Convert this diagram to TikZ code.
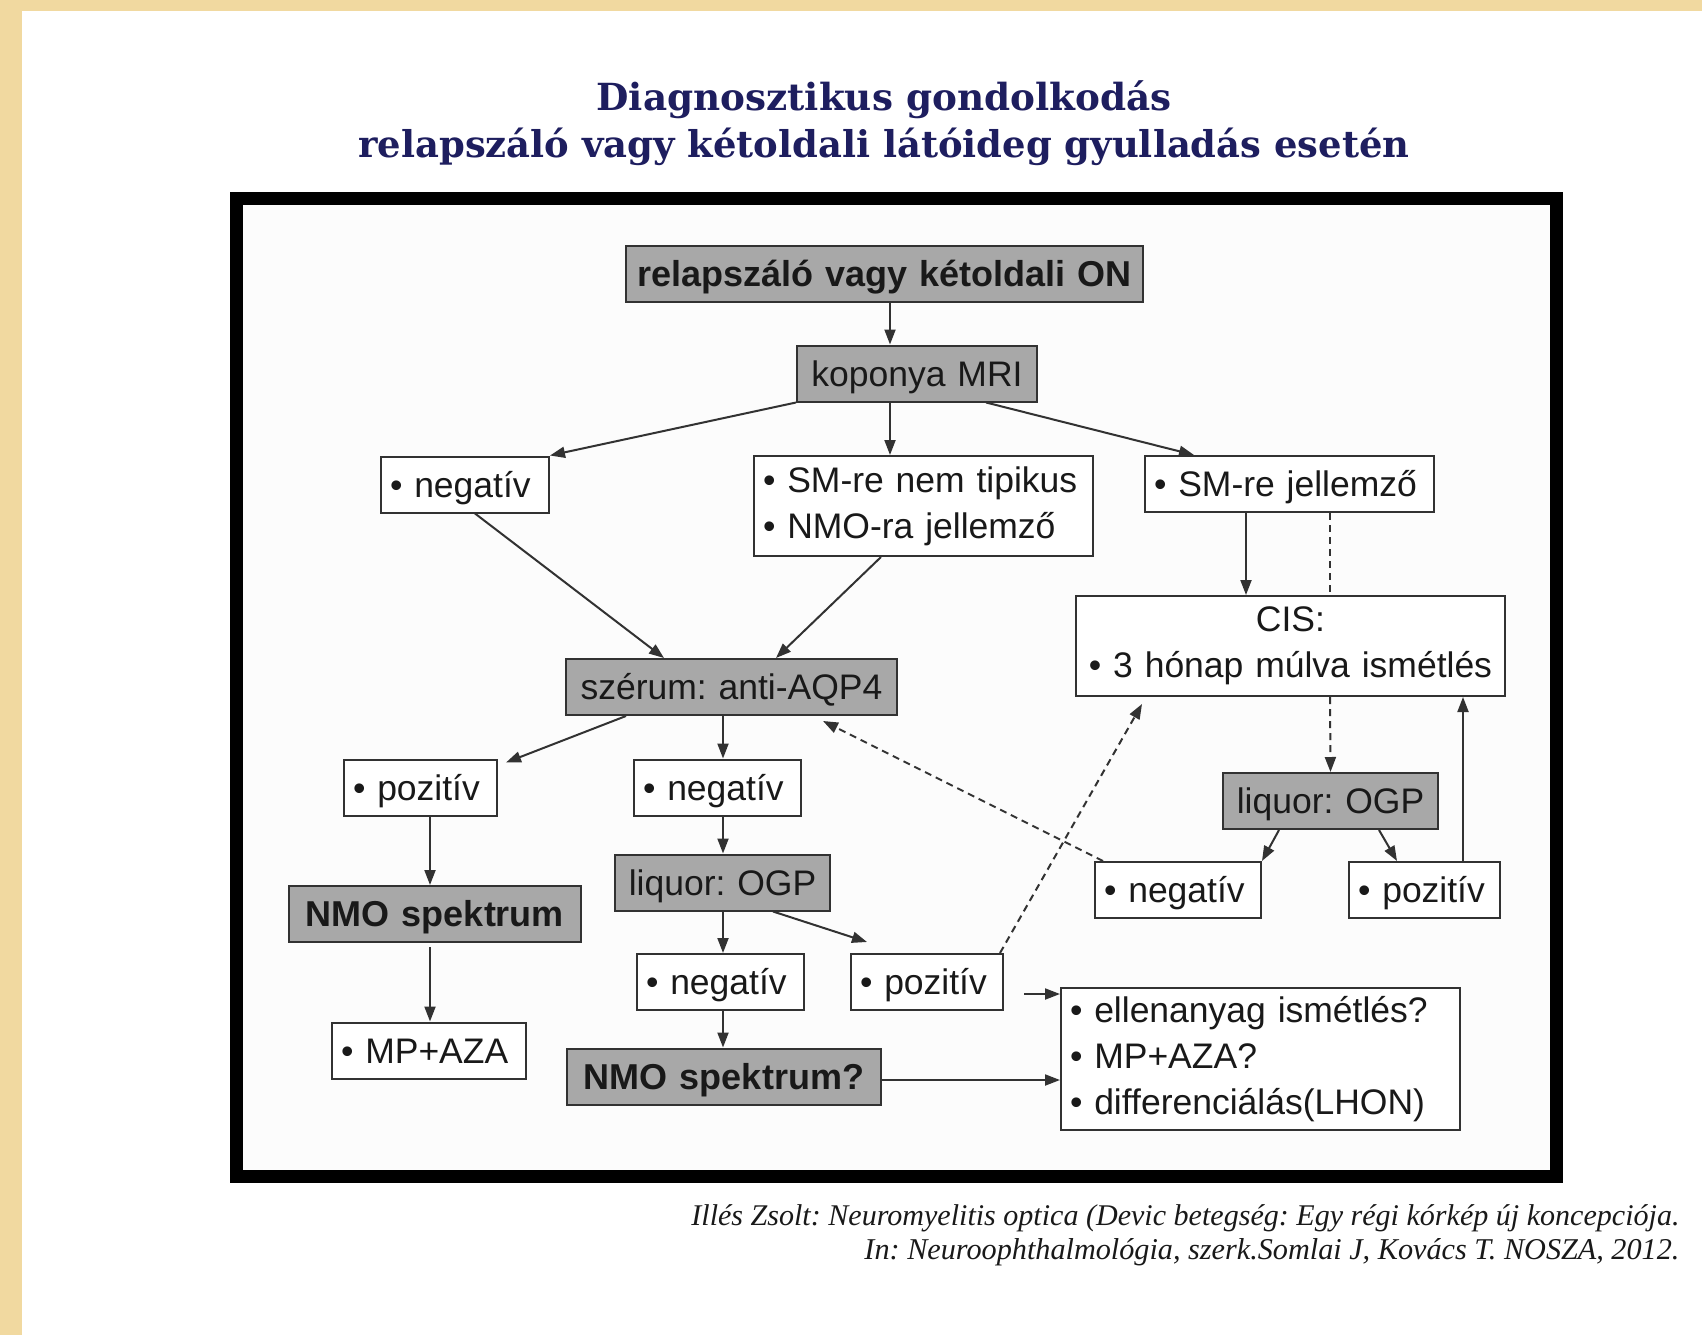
\documentclass[tikz,border=0pt]{standalone}
\usepackage{fontspec}
\usepackage{graphicx}
\setmainfont{Liberation Serif}
\newfontfamily\boxfont{Liberation Sans}
\newfontfamily\titlefont{DejaVu Serif}
\usetikzlibrary{arrows.meta}
\frenchspacing
\definecolor{navy}{RGB}{30,30,95}
\definecolor{wood}{RGB}{241,217,160}
\definecolor{bline}{RGB}{50,50,50}
\definecolor{gbox}{RGB}{168,168,168}
\definecolor{txt}{RGB}{25,25,25}
\definecolor{inner}{RGB}{252,252,252}
\tikzset{
  basebox/.style={draw=bline, line width=2pt, fill=white, inner xsep=9pt, inner ysep=0pt,
    minimum height=56pt, font=\boxfont\fontsize{35.5}{46}\selectfont, text=txt, align=left},
  bx/.style={basebox, text height=30pt, text depth=5pt},
  mbx/.style={basebox},
  gbx/.style={bx, fill=gbox, align=center},
  arr/.style={draw=bline, line width=2pt, -{Triangle[length=15pt,width=11pt]}},
  darr/.style={arr, dash pattern=on 7pt off 5pt},
  dln/.style={draw=bline, line width=2pt, dash pattern=on 7pt off 5pt},
}
\begin{document}
\begin{tikzpicture}[x=1pt,y=-1pt]
\useasboundingbox (0,0) rectangle (1702,1335);
% background
\fill[wood] (0,0) rectangle (1702,1335);
\fill[white] (22,11) rectangle (1702,1335);
% title
\node[font=\titlefont\bfseries\fontsize{34}{40}\selectfont, text=navy] (t1) at (884,100)
  {\resizebox{575pt}{!}{Diagnosztikus gondolkodás}};
\node[font=\titlefont\bfseries\fontsize{34}{40}\selectfont, text=navy] (t2) at (884,147)
  {\resizebox{1051pt}{!}{relapszáló vagy kétoldali látóideg gyulladás esetén}};
% frame
\fill[inner] (243,205) rectangle (1550,1170);
\draw[line width=13pt, black] (236.5,198.5) rectangle (1556.5,1176.5);
% nodes
\node[gbx, text width=499pt, font=\boxfont\bfseries\fontsize{36}{46}\selectfont] (on) at (884.5,273.5) {relapszáló vagy kétoldali ON};
\node[gbx, text width=222pt] (mri) at (917,373.5) {koponya MRI};
\node[bx, text width=150pt] (neg1) at (465,484.5) {• negatív};
\node[mbx, text width=321pt, minimum height=100pt] (smnem) at (923.5,506) {• SM-re nem tipikus\\• NMO-ra jellemző};
\node[bx, text width=271pt] (smj) at (1289.5,484) {• SM-re jellemző};
\node[mbx, text width=411pt, minimum height=100pt, align=center] (cis) at (1290.5,646) {CIS:\\• 3 hónap múlva ismétlés};
\node[gbx, text width=313pt] (szer) at (731.5,687) {szérum: anti-AQP4};
\node[bx, text width=135pt] (poz1) at (420.5,787.5) {• pozitív};
\node[bx, text width=149pt] (neg2) at (717.5,787.5) {• negatív};
\node[gbx, text width=197pt] (liq1) at (722.5,882.5) {liquor: OGP};
\node[gbx, text width=274pt, font=\boxfont\bfseries\fontsize{36}{46}\selectfont] (nmo) at (435,914) {NMO spektrum};
\node[bx, text width=149pt] (neg3) at (720.5,982) {• negatív};
\node[bx, text width=134pt] (poz2) at (927,982) {• pozitív};
\node[gbx, text width=296pt, font=\boxfont\bfseries\fontsize{36}{46}\selectfont] (nmoq) at (724,1076.5) {NMO spektrum?};
\node[bx, text width=176pt] (mpaza) at (429,1050.5) {• MP+AZA};
\node[mbx, text width=381pt, minimum height=142pt] (big) at (1260.5,1059) {• ellenanyag ismétlés?\\• MP+AZA?\\• differenciálás(LHON)};
\node[gbx, text width=197pt] (liq2) at (1330.5,801) {liquor: OGP};
\node[bx, text width=148pt] (neg4) at (1178,890) {• negatív};
\node[bx, text width=133pt] (poz3) at (1424.5,890) {• pozitív};
% connectors
\draw[arr] ([xshift=5.5]on.south) -- ([xshift=-27]mri.north);
\draw[arr] (mri.south west) -- (neg1.north east);
\draw[arr] ([xshift=-27]mri.south) -- ([xshift=-33.5]smnem.north);
\draw[arr] ([xshift=69]mri.south) -- ([xshift=-95.5]smj.north);
\draw[arr] ([xshift=10]neg1.south) -- ([xshift=-67.5]szer.north);
\draw[arr] ([xshift=-42.5]smnem.south) -- ([xshift=44.5]szer.north);
\draw[arr] ([xshift=-43.5]smj.south) -- ([xshift=-44.5]cis.north);
\draw[dln] ([xshift=40.5]smj.south) -- ([xshift=39.5]cis.north);
\draw[darr] ([xshift=39.5]cis.south) -- (liq2.north);
\draw[arr] ([xshift=-105.5]szer.south) -- ([xshift=8,yshift=-4]poz1.north east);
\draw[arr] ([xshift=-8.5]szer.south) -- ([xshift=5.5]neg2.north);
\draw[arr] ([xshift=9.5]poz1.south) -- ([xshift=-5]nmo.north);
\draw[arr] ([xshift=-5,yshift=-4]nmo.south) -- ([xshift=1]mpaza.north);
\draw[arr] ([xshift=5.5]neg2.south) -- ([xshift=0.5]liq1.north);
\draw[arr] ([xshift=0.5]liq1.south) -- ([xshift=2.5]neg3.north);
\draw[arr] ([xshift=50.5]liq1.south) -- ([xshift=17,yshift=11]poz2.north west);
\draw[arr] ([xshift=2.5]neg3.south) -- ([xshift=-1]nmoq.north);
\draw[arr] ([yshift=-3.5]nmoq.east) -- ([yshift=-21]big.west);
\coordinate (pz2out) at ([xshift=20,yshift=-12]poz2.east);
\draw[arr] (pz2out) -- ([yshift=65]big.west);
\draw[darr] ([xshift=-4]poz2.north east) -- ([xshift=67,yshift=-7]cis.south west);
\draw[darr] ([xshift=9]neg4.north west) -- ([xshift=-75,yshift=-5]szer.south east);
\draw[arr] ([xshift=-51.5]liq2.south) -- (neg4.north east);
\draw[arr] ([xshift=48.5]liq2.south) -- ([xshift=-27.5]poz3.north);
\draw[arr] ([xshift=38.5]poz3.north) -- ([xshift=172.5]cis.south);
% citation
\node[anchor=east, font=\itshape\fontsize{26}{30}\selectfont, text=txt] (c1) at (1683,1218)
  {\resizebox{988pt}{!}{Illés Zsolt: Neuromyelitis optica (Devic betegség: Egy régi kórkép új koncepciója.}};
\node[anchor=east, font=\itshape\fontsize{26}{30}\selectfont, text=txt] (c2) at (1683,1252)
  {\resizebox{815pt}{!}{In: Neuroophthalmológia, szerk.Somlai J, Kovács T. NOSZA, 2012.}};
\end{tikzpicture}
\end{document}
